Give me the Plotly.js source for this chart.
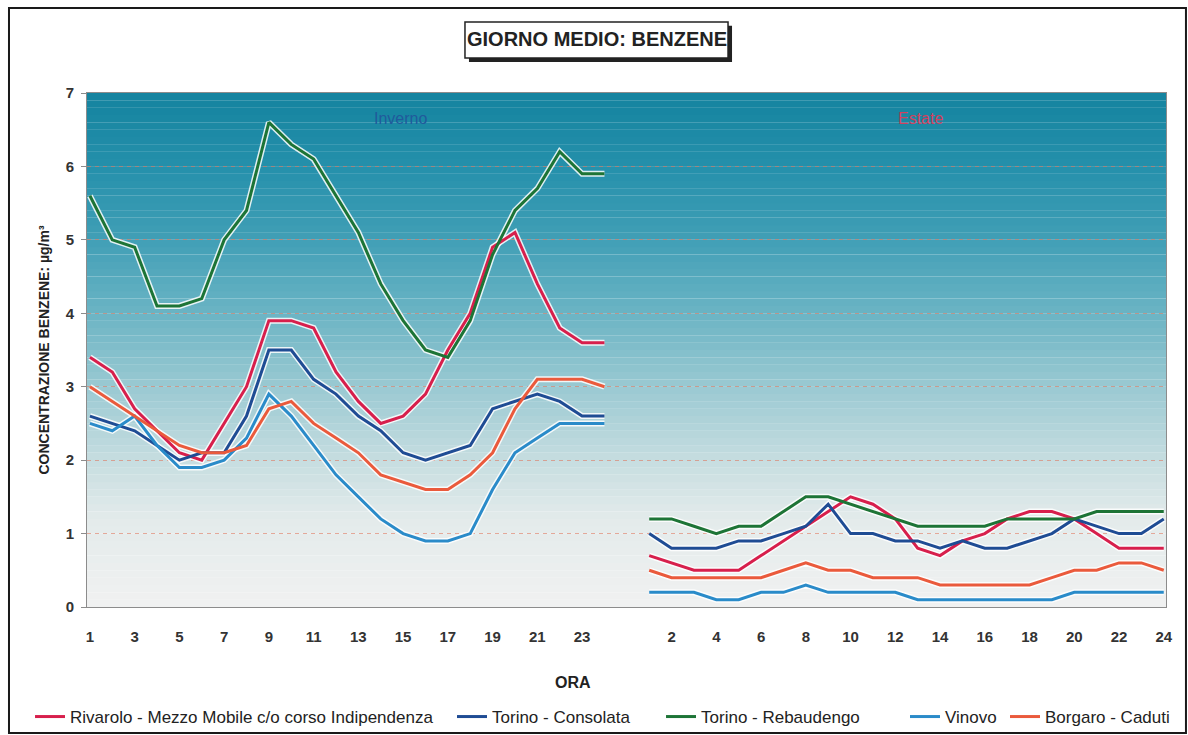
<!DOCTYPE html>
<html>
<head>
<meta charset="utf-8">
<script src="https://cdn.plot.ly/plotly-3.0.1.min.js"></script>
<style>html,body{margin:0;padding:0;background:#fff;}#chart{width:1188px;height:735px;}</style>
</head>
<body>
<div id="chart"></div>
<script>
// ---- Data ----
const hours = [1,2,3,4,5,6,7,8,9,10,11,12,13,14,15,16,17,18,19,20,21,22,23,24];
const winterTicks = ['1','3','5','7','9','11','13','15','17','19','21','23'];
const summerTicks = ['2','4','6','8','10','12','14','16','18','20','22','24'];
const seasonLabels = ['Inverno','Estate'];
const stations = ['Rivarolo - Mezzo Mobile c/o corso Indipendenza','Torino - Consolata','Torino - Rebaudengo','Vinovo','Borgaro - Caduti'];

const rivaroloWinter   = [3.4,3.2,2.7,2.4,2.1,2.0,2.5,3.0,3.9,3.9,3.8,3.2,2.8,2.5,2.6,2.9,3.5,4.0,4.9,5.1,4.4,3.8,3.6,3.6];
const consolataWinter  = [2.6,2.5,2.4,2.2,2.0,2.1,2.1,2.6,3.5,3.5,3.1,2.9,2.6,2.4,2.1,2.0,2.1,2.2,2.7,2.8,2.9,2.8,2.6,2.6];
const rebaudengoWinter = [5.6,5.0,4.9,4.1,4.1,4.2,5.0,5.4,6.6,6.3,6.1,5.6,5.1,4.4,3.9,3.5,3.4,3.9,4.8,5.4,5.7,6.2,5.9,5.9];
const vinovoWinter     = [2.5,2.4,2.6,2.2,1.9,1.9,2.0,2.3,2.9,2.6,2.2,1.8,1.5,1.2,1.0,0.9,0.9,1.0,1.6,2.1,2.3,2.5,2.5,2.5];
const borgaroWinter    = [3.0,2.8,2.6,2.4,2.2,2.1,2.1,2.2,2.7,2.8,2.5,2.3,2.1,1.8,1.7,1.6,1.6,1.8,2.1,2.7,3.1,3.1,3.1,3.0];

const rivaroloSummer   = [0.7,0.6,0.5,0.5,0.5,0.7,0.9,1.1,1.3,1.5,1.4,1.2,0.8,0.7,0.9,1.0,1.2,1.3,1.3,1.2,1.0,0.8,0.8,0.8];
const consolataSummer  = [1.0,0.8,0.8,0.8,0.9,0.9,1.0,1.1,1.4,1.0,1.0,0.9,0.9,0.8,0.9,0.8,0.8,0.9,1.0,1.2,1.1,1.0,1.0,1.2];
const rebaudengoSummer = [1.2,1.2,1.1,1.0,1.1,1.1,1.3,1.5,1.5,1.4,1.3,1.2,1.1,1.1,1.1,1.1,1.2,1.2,1.2,1.2,1.3,1.3,1.3,1.3];
const vinovoSummer     = [0.2,0.2,0.2,0.1,0.1,0.2,0.2,0.3,0.2,0.2,0.2,0.2,0.1,0.1,0.1,0.1,0.1,0.1,0.1,0.2,0.2,0.2,0.2,0.2];
const borgaroSummer    = [0.5,0.4,0.4,0.4,0.4,0.4,0.5,0.6,0.5,0.5,0.4,0.4,0.4,0.3,0.3,0.3,0.3,0.3,0.4,0.5,0.5,0.6,0.6,0.5];

// ---- Build ----
const OFFSET = 25; // summer block placed after one empty slot
const xAll = hours.concat([OFFSET], hours.map(h => h + OFFSET));
const winterSeries = [rivaroloWinter, consolataWinter, rebaudengoWinter, vinovoWinter, borgaroWinter];
const summerSeries = [rivaroloSummer, consolataSummer, rebaudengoSummer, vinovoSummer, borgaroSummer];
const colors = ['#d71f4c', '#1f4c94', '#1d7436', '#2a8bc9', '#ea5a3c'];
const legendNames = ['legend','legend2','legend3','legend4','legend5'];
const legendX = [-0.0528, 0.3383, 0.5320, 0.7581, 0.8508];

const halos = [], lines = [];
stations.forEach((name, i) => {
  const y = winterSeries[i].concat([null], summerSeries[i]);
  halos.push({x: xAll, y: y, type: 'scatter', mode: 'lines', connectgaps: false,
    line: {color: 'rgba(255,255,255,0.85)', width: 6}, hoverinfo: 'skip', showlegend: false});
  lines.push({x: xAll, y: y, type: 'scatter', mode: 'lines', connectgaps: false, name: name,
    line: {color: colors[i], width: 3}, legend: legendNames[i]});
});

// gradient background stripes
const stops = [[0,'#f1f1f1'],[1.2,'#e3ebeb'],[2,'#c6dde0'],[3,'#9ac9d2'],[4,'#6bb4c4'],[5,'#419fb6'],[6,'#2590ab'],[7,'#14839f']];
function hex(c){return [parseInt(c.slice(1,3),16),parseInt(c.slice(3,5),16),parseInt(c.slice(5,7),16)];}
function colAt(v){
  for (let k = 0; k < stops.length - 1; k++) {
    const [a, ca] = stops[k], [b, cb] = stops[k+1];
    if (v >= a && v <= b) {
      const t = (v - a) / (b - a), A = hex(ca), B = hex(cb);
      return 'rgb(' + A.map((q, j) => Math.round(q + (B[j] - q) * t)).join(',') + ')';
    }
  }
  return stops[stops.length-1][1];
}
const shapes = [];
const STEP = 0.1;
for (let v = 0; v < 7 - 1e-9; v += STEP) {
  shapes.push({type: 'rect', xref: 'paper', yref: 'y', x0: 0, x1: 1, y0: v, y1: v + STEP + 0.002,
    fillcolor: colAt(v + STEP / 2), line: {width: 0}, layer: 'below'});
}
// title box shadow + box
shapes.push({type: 'rect', xref: 'paper', yref: 'paper', x0: 0.3540, x1: 0.5978, y0: 1.0603, y1: 1.1310,
  fillcolor: '#222', line: {width: 0}});
shapes.push({type: 'rect', xref: 'paper', yref: 'paper', x0: 0.3503, x1: 0.5941, y0: 1.0681, y1: 1.1381,
  fillcolor: '#ffffff', line: {color: '#222', width: 1.5}});
// outer frame
shapes.push({type: 'rect', xref: 'paper', yref: 'paper', x0: -0.0723, x1: 1.0185, y0: -0.2451, y1: 1.1654,
  line: {color: '#1a1a1a', width: 2}, fillcolor: 'rgba(0,0,0,0)'});

const FAM = 'Liberation Sans, Arial, sans-serif';
const tickFont = {family: FAM, size: 15, color: '#333', weight: 'bold'};

const layout = {
  width: 1188, height: 735,
  margin: {l: 87, r: 22, t: 93, b: 128, autoexpand: false},
  paper_bgcolor: '#ffffff', plot_bgcolor: 'rgba(0,0,0,0)',
  showlegend: true,
  xaxis: {
    range: [0.87, 49.1], showgrid: false, zeroline: false,
    showline: true, linecolor: '#8c8c8c', linewidth: 1, mirror: true,
    tickmode: 'array',
    tickvals: winterTicks.map(Number).concat(summerTicks.map(s => Number(s) + OFFSET)),
    ticktext: winterTicks.concat(summerTicks),
    ticks: '', ticklabelstandoff: 16, automargin: false,
    tickfont: tickFont
  },
  yaxis: {
    range: [0, 7], dtick: 1, tick0: 0, automargin: false,
    showgrid: true, gridcolor: 'rgba(222,120,95,0.6)', griddash: '4px,4px', gridwidth: 1,
    zeroline: false, showline: true, linecolor: '#8c8c8c', linewidth: 1, mirror: true,
    ticks: 'outside', ticklen: 5, tickcolor: '#8c8c8c', ticklabelstandoff: 4,
    tickfont: tickFont,
    title: {text: 'CONCENTRAZIONE BENZENE: µg/m³', standoff: 12,
      font: {family: FAM, size: 14, color: '#222', weight: 'bold'}}
  },
  shapes: shapes,
  annotations: [
    {text: 'GIORNO MEDIO: BENZENE', xref: 'paper', yref: 'paper', x: 0.4722, y: 1.1041,
      xanchor: 'center', yanchor: 'middle', showarrow: false,
      font: {family: FAM, size: 20, color: '#222', weight: 'bold'}},
    {text: 'ORA', xref: 'paper', yref: 'paper', x: (573 - 87) / 1079, y: (607 - 682) / 514,
      xanchor: 'center', yanchor: 'middle', showarrow: false,
      font: {family: FAM, size: 16, color: '#222', weight: 'bold'}},
    {text: seasonLabels[0], xref: 'paper', yref: 'paper', x: (400 - 87) / 1079, y: (607 - 118) / 514,
      xanchor: 'center', yanchor: 'middle', showarrow: false,
      font: {family: FAM, size: 16, color: '#205a9c'}},
    {text: seasonLabels[1], xref: 'paper', yref: 'paper', x: (920 - 87) / 1079, y: (607 - 118) / 514,
      xanchor: 'center', yanchor: 'middle', showarrow: false,
      font: {family: FAM, size: 16, color: '#d2405e'}}
  ]
};
legendNames.forEach((ln, i) => {
  layout[ln] = {orientation: 'h', x: legendX[i], xanchor: 'left', y: (607 - 717) / 514, yanchor: 'middle',
    bgcolor: 'rgba(0,0,0,0)', borderwidth: 0, itemwidth: 30,
    font: {family: FAM, size: 17, color: '#222'}};
});

Plotly.newPlot('chart', halos.concat(lines), layout, {displayModeBar: false, responsive: false});
</script>
</body>
</html>
